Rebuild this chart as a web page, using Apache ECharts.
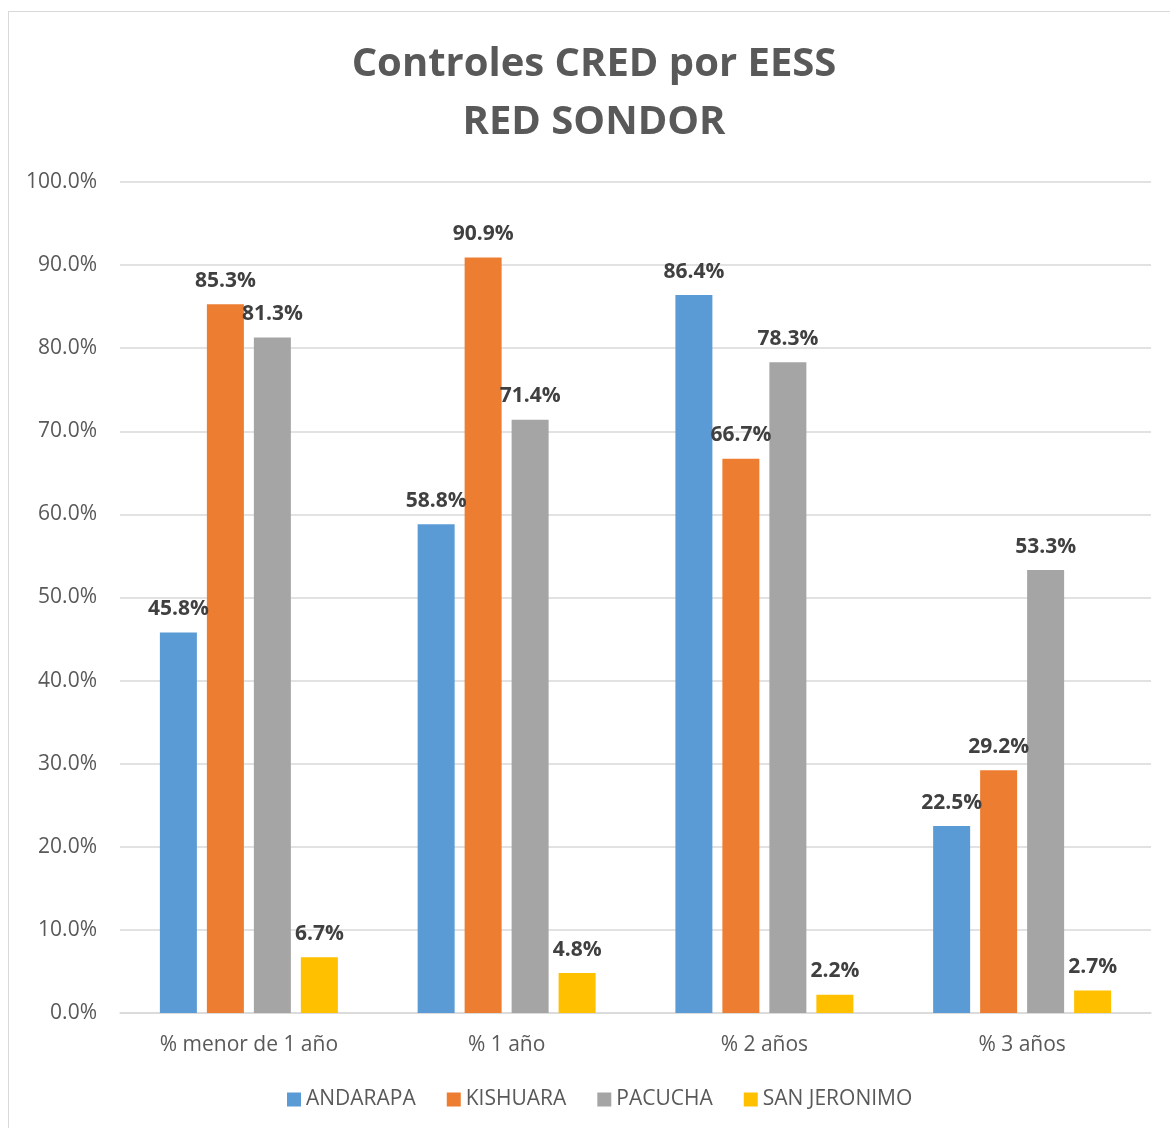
<!DOCTYPE html>
<html>
<head>
<meta charset="utf-8">
<script src="https://cdn.jsdelivr.net/npm/echarts@6/dist/echarts.min.js"></script>
<style>
  html, body { margin: 0; padding: 0; background: #fff; overflow: hidden; }
  #frame { position: absolute; left: 8px; top: 11px; width: 1200px; height: 1200px; border: 1.5px solid #d9d9d9; box-sizing: border-box; }
  #chart { position: absolute; left: 0; top: 0; width: 1170px; height: 1128px; }
</style>
</head>
<body>
<div id="frame"></div>
<div id="chart"></div>
<script>
const categories = ['% menor de 1 año', '% 1 año', '% 2 años', '% 3 años'];
const seriesNames = ['ANDARAPA', 'KISHUARA', 'PACUCHA', 'SAN JERONIMO'];
const andarapa = [45.8, 58.8, 86.4, 22.5];
const kishuara = [85.3, 90.9, 66.7, 29.2];
const pacucha = [81.3, 71.4, 78.3, 53.3];
const sanJeronimo = [6.7, 4.8, 2.2, 2.7];
const colors = ['#5B9BD5', '#ED7D31', '#A5A5A5', '#FFC000'];

const FONT = 'Open Sans, Liberation Sans, sans-serif';
const chart = echarts.init(document.getElementById('chart'));

const makeSeries = (name, data, i) => ({
    name: name,
    type: 'bar',
    data: data,
    barWidth: 37,
    barGap: '27%',
    itemStyle: { color: colors[i] },
    label: {
        show: true,
        position: 'top',
        distance: 13,
        formatter: p => p.value.toFixed(1) + '%',
        color: '#404040',
        fontFamily: FONT,
        fontWeight: 'bold',
        fontSize: 21
    }
});

chart.setOption({
    animation: false,
    title: {
        text: 'Controles CRED por EESS\nRED SONDOR',
        left: 589,
        textAlign: 'center',
        top: 31,
        textStyle: { color: '#595959', fontFamily: FONT, fontWeight: 'bold', fontSize: 40, lineHeight: 58 }
    },
    legend: {
        bottom: 13,
        left: 282,
        itemWidth: 14,
        itemHeight: 14,
        itemGap: 31,
        icon: 'rect',
        textStyle: { color: '#595959', fontFamily: FONT, fontSize: 21 }
    },
    grid: { left: 120, right: 19, top: 182, bottom: 115 },
    xAxis: {
        type: 'category',
        data: categories,
        axisLine: { lineStyle: { color: '#d9d9d9', width: 1.5 } },
        axisTick: { show: false },
        axisLabel: { color: '#595959', fontFamily: FONT, fontSize: 21, margin: 22 }
    },
    yAxis: {
        type: 'value',
        min: 0,
        max: 100,
        interval: 10,
        axisLine: { show: false },
        axisTick: { show: false },
        splitLine: { lineStyle: { color: '#d9d9d9', width: 1.5 } },
        axisLabel: { color: '#595959', fontFamily: FONT, fontSize: 21, margin: 23, formatter: v => v.toFixed(1) + '%' }
    },
    series: [
        makeSeries(seriesNames[0], andarapa, 0),
        makeSeries(seriesNames[1], kishuara, 1),
        makeSeries(seriesNames[2], pacucha, 2),
        makeSeries(seriesNames[3], sanJeronimo, 3)
    ]
});
</script>
</body>
</html>
